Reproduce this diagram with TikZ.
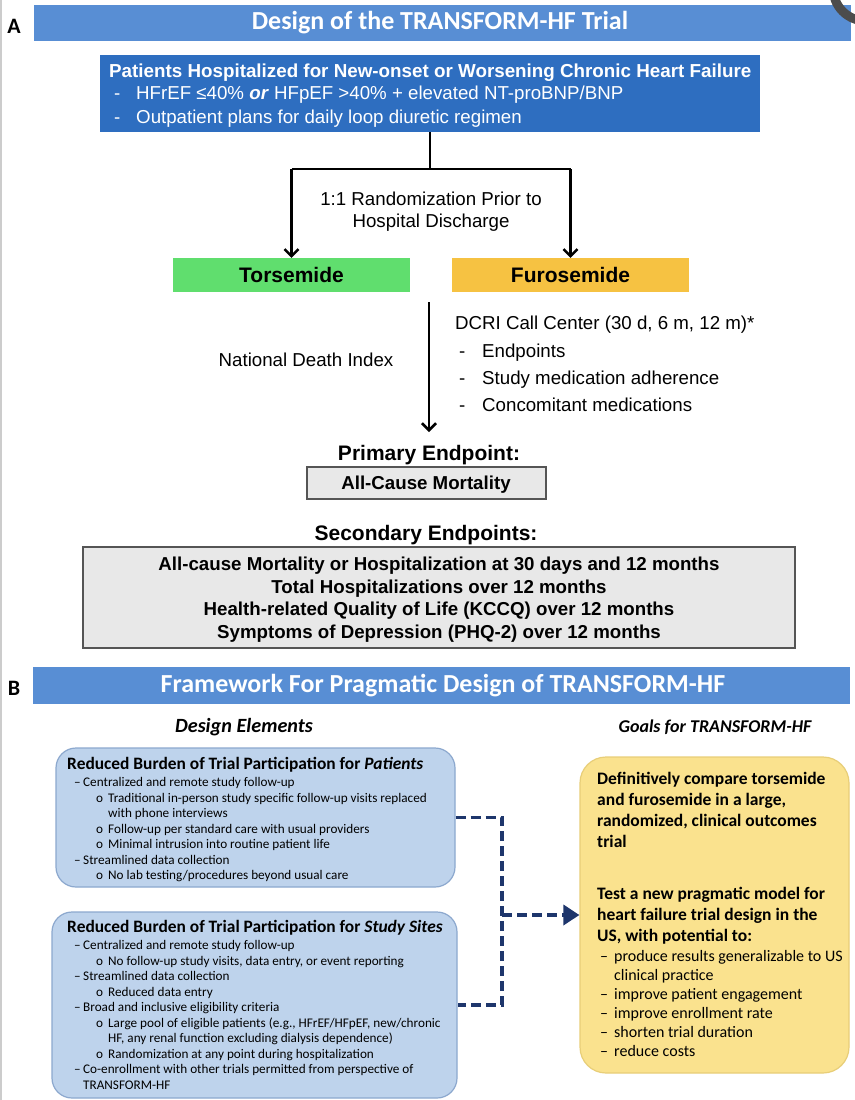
\documentclass[tikz,border=0pt]{standalone}
\usepackage{fontspec}
\setmainfont{Liberation Sans}
\newfontfamily\arialn{Liberation Sans}
\newfontfamily\calib{Carlito}
\usetikzlibrary{arrows.meta}
\definecolor{bannerblue}{RGB}{88,142,212}
\definecolor{topblue}{RGB}{46,110,192}
\definecolor{torgreen}{RGB}{96,222,110}
\definecolor{furgold}{RGB}{246,194,66}
\definecolor{boxgray}{RGB}{232,232,232}
\definecolor{edgegray}{RGB}{85,85,85}
\definecolor{lightblue}{RGB}{190,211,236}
\definecolor{lightblueedge}{RGB}{140,168,206}
\definecolor{paleyellow}{RGB}{250,226,142}
\definecolor{yellowedge}{RGB}{232,206,120}
\definecolor{navy}{RGB}{30,54,108}
\newcommand{\fs}[1]{\fontsize{#1}{#1}\selectfont}
\tikzset{
  banner/.style={fill=bannerblue, minimum width=817pt, minimum height=36pt, inner sep=0pt},
  bannertext/.style={text=white, font=\calib\bfseries\fs{26}, inner sep=0pt},
  panel/.style={font=\calib\bfseries\fs{22}, inner sep=0pt},
  armbox/.style={minimum width=237pt, minimum height=34pt, inner sep=0pt, font=\arialn\bfseries\fs{21}},
  graybox/.style={fill=boxgray, draw=edgegray, line width=1.5pt, inner sep=0pt},
  flow/.style={line width=2.5pt, -{Straight Barb[length=7pt,width=14pt,line width=2.5pt]}},
  plain/.style={line width=2.5pt},
  txt/.style={inner sep=0pt, anchor=base west},
  ctxt/.style={inner sep=0pt, anchor=base},
  reg/.style={font=\arialn\fs{18.7}},
  bluebox/.style={fill=lightblue, draw=lightblueedge, line width=1.2pt, rounded corners=20pt, inner sep=0pt},
  yellowbox/.style={fill=paleyellow, draw=yellowedge, line width=1.2pt, rounded corners=26pt, inner sep=0pt},
  dashlink/.style={draw=navy, line width=3.5pt, dash pattern=on 10pt off 5pt},
}
\begin{document}
\begin{tikzpicture}[x=1pt,y=-1pt]
\useasboundingbox (0,0) rectangle (854,1100);
\fill[white] (0,0) rectangle (854,1100);
\draw[gray!40, line width=1.5pt] (1,0) -- (1,1100);

% ---------------- Panel A ----------------
\node[panel, anchor=center] (labA) at (14,26) {A};
\node[banner] (banA) at (442,23) {};
\node[bannertext] (banAt) at (440,23) {Design of the TRANSFORM-HF Trial};
\draw[black!70, line width=9pt] (866,-12) circle (33pt);

\node[fill=topblue, minimum width=660pt, minimum height=77pt, inner sep=0pt] (top) at (430,93.5) {};
\node[txt, text=white, font=\arialn\bfseries\fs{18.8}] (t1) at (109,77.7) {Patients Hospitalized for New-onset or Worsening Chronic Heart Failure};
\node[txt, text=white, reg] (t2d) at (114,99.7) {-};
\node[txt, text=white, reg] (t2) at (136,99.7) {HFrEF ≤40\% \textbf{\textit{or}} HFpEF >40\% + elevated NT-proBNP/BNP};
\node[txt, text=white, reg] (t3d) at (114,123.7) {-};
\node[txt, text=white, reg] (t3) at (136,123.7) {Outpatient plans for daily loop diuretic regimen};

\node[armbox, fill=torgreen] (tor) at (291.5,275) {Torsemide};
\node[armbox, fill=furgold] (fur) at (570.5,275) {Furosemide};

\coordinate (split) at (430,169);
\coordinate (splitL) at (291.5,169);
\coordinate (splitR) at (570.5,169);
\draw[plain] (top.south) -- (split);
\draw[plain] (splitL) -- (splitR);
\draw[flow] (splitL) -- (tor.north);
\draw[flow] (splitR) -- (fur.north);

\node[ctxt, reg] (rand1) at (431,205.7) {1:1 Randomization Prior to};
\node[ctxt, reg] (rand2) at (431,227.7) {Hospital Discharge};

\node[ctxt, reg] (ndi) at (306,366.7) {National Death Index};
\node[txt, reg] (dcri) at (455,329.7) {DCRI Call Center (30 d, 6 m, 12 m)*};
\node[txt, reg] (d1d) at (459,357.7) {-};
\node[txt, reg] (d1) at (482,357.7) {Endpoints};
\node[txt, reg] (d2d) at (459,384.7) {-};
\node[txt, reg] (d2) at (482,384.7) {Study medication adherence};
\node[txt, reg] (d3d) at (459,411.7) {-};
\node[txt, reg] (d3) at (482,411.7) {Concomitant medications};

\node[ctxt, font=\arialn\bfseries\fs{21}] (prim) at (429,460.5) {Primary Endpoint:};
\coordinate (fustart) at (429,302);
\draw[flow] (fustart) -- (429,432) coordinate (fuend);

\node[graybox, minimum width=239pt, minimum height=32pt] (acm) at (426.5,483) {};
\node[ctxt, font=\arialn\bfseries\fs{18.7}] (acmt) at (426,489.7) {All-Cause Mortality};

\node[ctxt, font=\arialn\bfseries\fs{21}] (sec) at (426,540.5) {Secondary Endpoints:};
\node[graybox, minimum width=712pt, minimum height=101pt] (secbox) at (439,597.5) {};
\node[ctxt, font=\arialn\bfseries\fs{18.7}] (s1) at (439,570.7) {All-cause Mortality or Hospitalization at 30 days and 12 months};
\node[ctxt, font=\arialn\bfseries\fs{18.7}] (s2) at (439,593.7) {Total Hospitalizations over 12 months};
\node[ctxt, font=\arialn\bfseries\fs{18.7}] (s3) at (439,615.7) {Health-related Quality of Life (KCCQ) over 12 months};
\node[ctxt, font=\arialn\bfseries\fs{18.7}] (s4) at (439,638.7) {Symptoms of Depression (PHQ-2) over 12 months};

% ---------------- Panel B ----------------
\node[panel, anchor=center] (labB) at (14,688) {B};
\node[banner, minimum width=817pt, minimum height=37pt] (banB) at (441.5,685.5) {};
\node[bannertext] (banBt) at (443,685.5) {Framework For Pragmatic Design of TRANSFORM-HF};

\node[inner sep=0pt, font=\calib\bfseries\itshape\fs{20.2}] (de) at (244,727) {Design Elements};
\node[inner sep=0pt, font=\calib\bfseries\itshape\fs{18}] (goals) at (715,727) {Goals for TRANSFORM-HF};

% box 1
\node[bluebox, minimum width=399pt, minimum height=139pt] (pat) at (255.5,817.5) {};
\node[txt, font=\calib\bfseries\fs{17.4}] (patt) at (67,769.8) {Reduced Burden of Trial Participation for \textit{Patients}};
\begin{scope}[every node/.style={txt, font=\calib\fs{13.2}}]
\node (p1d) at (74,786.5) {–};
\node (p1) at (83,786.5) {Centralized and remote study follow-up};
\node (p2d) at (96,802) {o};
\node (p2) at (108,802) {Traditional in-person study specific follow-up visits replaced};
\node (p3) at (108,817.5) {with phone interviews};
\node (p4d) at (96,833) {o};
\node (p4) at (108,833) {Follow-up per standard care with usual providers};
\node (p5d) at (96,848.5) {o};
\node (p5) at (108,848.5) {Minimal intrusion into routine patient life};
\node (p6d) at (74,864) {–};
\node (p6) at (83,864) {Streamlined data collection};
\node (p7d) at (96,879.5) {o};
\node (p7) at (108,879.5) {No lab testing/procedures beyond usual care};
\end{scope}

% box 2
\node[bluebox, minimum width=405pt, minimum height=186pt] (site) at (254.5,1005) {};
\node[txt, font=\calib\bfseries\fs{17.4}] (sitet) at (67,932.8) {Reduced Burden of Trial Participation for \textit{Study Sites}};
\begin{scope}[every node/.style={txt, font=\calib\fs{13.2}}]
\node (q1d) at (74,949.5) {–};
\node (q1) at (83,949.5) {Centralized and remote study follow-up};
\node (q2d) at (96,965) {o};
\node (q2) at (108,965) {No follow-up study visits, data entry, or event reporting};
\node (q3d) at (74,980.5) {–};
\node (q3) at (83,980.5) {Streamlined data collection};
\node (q4d) at (96,996) {o};
\node (q4) at (108,996) {Reduced data entry};
\node (q5d) at (74,1011.5) {–};
\node (q5) at (83,1011.5) {Broad and inclusive eligibility criteria};
\node (q6d) at (96,1027) {o};
\node (q6) at (108,1027) {Large pool of eligible patients (e.g., HFrEF/HFpEF, new/chronic};
\node (q7) at (108,1042.5) {HF, any renal function excluding dialysis dependence)};
\node (q8d) at (96,1058) {o};
\node (q8) at (108,1058) {Randomization at any point during hospitalization};
\node (q9d) at (74,1073.5) {–};
\node (q9) at (83,1073.5) {Co-enrollment with other trials permitted from perspective of};
\node (q10) at (83,1089) {TRANSFORM-HF};
\end{scope}

% yellow goals box
\node[yellowbox, minimum width=269pt, minimum height=316pt] (goal) at (714.5,915) {};
\begin{scope}[every node/.style={txt, font=\calib\bfseries\fs{17.5}}]
\node (g1) at (597,784) {Definitively compare torsemide};
\node (g2) at (597,805) {and furosemide in a large,};
\node (g3) at (597,826) {randomized, clinical outcomes};
\node (g4) at (597,847) {trial};
\node (g5) at (597,899) {Test a new pragmatic model for};
\node (g6) at (597,920) {heart failure trial design in the};
\node (g7) at (597,941) {US, with potential to:};
\end{scope}
\begin{scope}[every node/.style={txt, font=\calib\fs{16}}]
\node (h1d) at (600,961.5) {–};
\node (h1) at (614,961.5) {produce results generalizable to US};
\node (h2) at (614,980.5) {clinical practice};
\node (h3d) at (600,999.5) {–};
\node (h3) at (614,999.5) {improve patient engagement};
\node (h4d) at (600,1018.5) {–};
\node (h4) at (614,1018.5) {improve enrollment rate};
\node (h5d) at (600,1037.5) {–};
\node (h5) at (614,1037.5) {shorten trial duration};
\node (h6d) at (600,1056.5) {–};
\node (h6) at (614,1056.5) {reduce costs};
\end{scope}

% dashed connector
\coordinate (jtop) at (502,817.5);
\coordinate (jbot) at (502,1005);
\coordinate (jmid) at (502,915);
\draw[dashlink] (pat.east) -- (jtop) -- (jbot) -- (site.east);
\draw[dashlink, -{Triangle[length=16pt,width=20pt]}] (jmid) -- (goal.west);
\end{tikzpicture}
\end{document}
